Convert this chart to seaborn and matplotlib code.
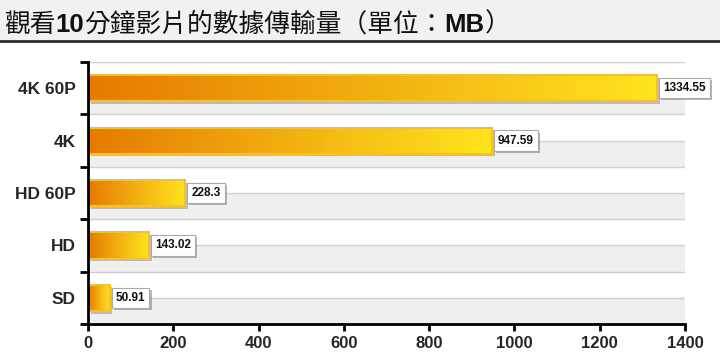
import numpy as np
import pandas as pd
import matplotlib
matplotlib.use("Agg")
import matplotlib.pyplot as plt
import matplotlib.patheffects as pe
from matplotlib.colors import LinearSegmentedColormap
from matplotlib.patches import Rectangle
import seaborn as sns

# data
categories = ["4K 60P", "4K", "HD 60P", "HD", "SD"]
values = [1334.55, 947.59, 228.3, 143.02, 50.91]
value_labels = ["1334.55", "947.59", "228.3", "143.02", "50.91"]
x_ticks = [0, 200, 400, 600, 800, 1000, 1200, 1400]

df = pd.DataFrame({"category": categories, "mb": values})

sns.set_theme(style="white")
plt.rcParams["font.family"] = ["Liberation Sans", "DejaVu Sans"]

fig = plt.figure(figsize=(7.2, 3.58), dpi=100)
ax = fig.add_axes([88 / 720, 1 - 324 / 358, (685 - 88) / 720, (324 - 62) / 358])

sns.barplot(data=df, x="mb", y="category", orient="h", width=0.5,
            color="#f0a000", ax=ax, zorder=2)
bars = list(ax.containers[0])

# background bands: lower half of each row grey
for i in range(len(categories)):
    ax.axhspan(i, i + 0.5, color="#efefef", zorder=0, lw=0)
for y in np.arange(-0.5, len(categories), 0.5):
    ax.axhline(y, color="#cfcfcf", lw=1, zorder=0.5)

ax.set_xlim(0, 1400)
ax.set_ylim(len(categories) - 0.5, -0.5)

grad = LinearSegmentedColormap.from_list("bar", ["#e67a00", "#f2b010", "#ffe41e"])
gimg = np.linspace(0, 1, 256).reshape(1, -1)
for p in bars:
    x0, y0 = p.get_x(), p.get_y()
    w, h = p.get_width(), p.get_height()
    p.set_facecolor("none")
    p.set_edgecolor("#f5c030")
    p.set_linewidth(1.5)
    p.set_zorder(4)
    shadow = Rectangle((x0, y0), w, h, facecolor="#b0b0b0", lw=0, zorder=2.5,
                       transform=ax.transData)
    shadow.set_path_effects([pe.SimplePatchShadow(offset=(2, -2), shadow_rgbFace="#999999", alpha=0.6)])
    ax.add_patch(shadow)
    im = ax.imshow(gimg, cmap=grad, aspect="auto", extent=(x0, x0 + w, y0 + h, y0),
                   zorder=3, interpolation="bicubic")
    im.set_clip_path(p)

ax.set_xlim(0, 1400)
ax.set_ylim(len(categories) - 0.5, -0.5)

for i, (v, lab) in enumerate(zip(values, value_labels)):
    t = ax.text(v + 14, i, lab, ha="left", va="center", fontsize=8.5, fontweight="bold",
                color="#111111", zorder=6,
                bbox=dict(boxstyle="square,pad=0.35", fc="white", ec="#aaaaaa", lw=0.8))
    t.get_bbox_patch().set_path_effects([pe.SimplePatchShadow(offset=(1.5, -1.5), alpha=0.4), pe.Normal()])

ax.set_xticks(x_ticks)
ax.set_xticklabels([str(v) for v in x_ticks], fontsize=12, fontweight="bold")
ax.set_yticks(range(len(categories)))
ax.set_yticklabels(categories, fontsize=12.5, fontweight="bold")
ax.set_yticks(np.arange(-0.5, len(categories), 1.0), minor=True)
ax.tick_params(axis="y", which="major", length=0, pad=9)
ax.tick_params(axis="y", which="minor", length=6, width=2, color="black", left=True)
ax.tick_params(axis="x", length=5, width=2, color="black", bottom=True, pad=4)
ax.set_xlabel("")
ax.set_ylabel("")
ax.set_facecolor("white")
for s in ["top", "right"]:
    ax.spines[s].set_visible(False)
for s in ["left", "bottom"]:
    ax.spines[s].set_color("black")
    ax.spines[s].set_linewidth(2)
    ax.spines[s].set_zorder(7)

# title band
fig.patches.append(Rectangle((0, 1 - 40 / 358), 1, 40 / 358, transform=fig.transFigure,
                             facecolor="#f1f1f1", lw=0, zorder=0))
fig.add_artist(plt.Line2D([0, 1], [1 - 41 / 358, 1 - 41 / 358], transform=fig.transFigure,
                          color="#2a2a2a", lw=2))

title_parts = [("觀看", "Noto Sans CJK TC", "normal"),
               ("10", "Liberation Sans", "bold"),
               ("分鐘影片的數據傳輸量（單位：", "Noto Sans CJK TC", "normal"),
               ("MB", "Liberation Sans", "bold"),
               ("）", "Noto Sans CJK TC", "normal")]
renderer = fig.canvas.get_renderer()
xpos = 4 / 720
for txt, fam, wt in title_parts:
    t = fig.text(xpos, 1 - 32 / 358, txt, fontsize=18.5, family=fam, fontweight=wt,
                 color="#111111", ha="left", va="baseline")
    xpos += t.get_window_extent(renderer).width / fig.bbox.width

fig.savefig("out.png", dpi=100)
